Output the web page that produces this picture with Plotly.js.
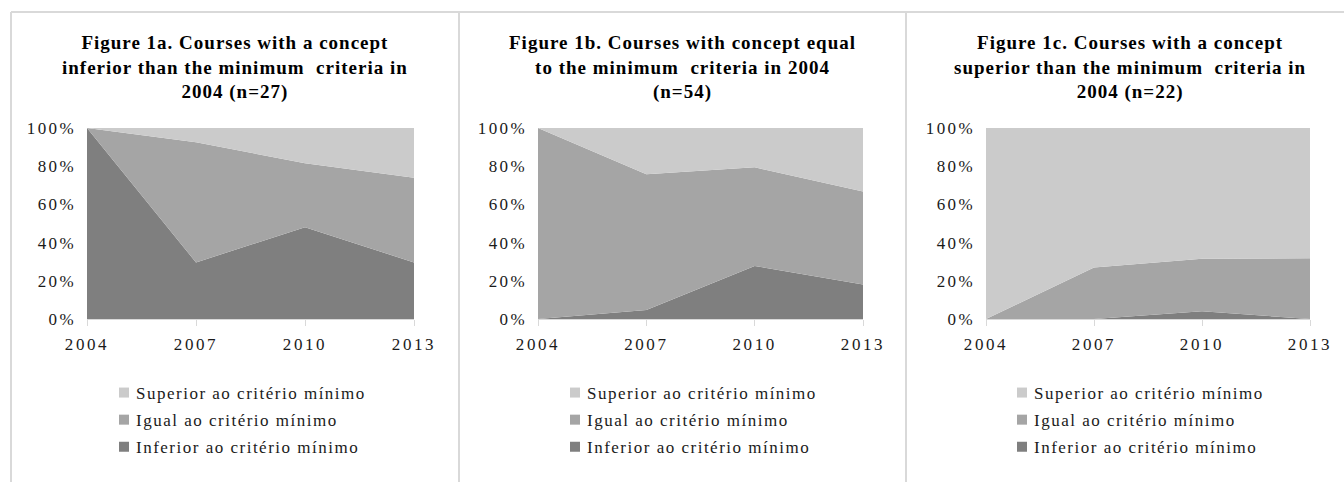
<!DOCTYPE html>
<html>
<head>
<meta charset="utf-8">
<script src="https://cdn.plot.ly/plotly-3.0.1.min.js"></script>
<style>
  html, body { margin: 0; padding: 0; background: #fff; }
  #chart { width: 1344px; height: 482px; }
  .js-plotly-plot .legendpoints { transform: translateX(8px); }
</style>
</head>
<body>
<div id="chart"></div>
<script>
// ---- data ----
const years = [2004, 2007, 2010, 2013];
const seriesNames = ["Inferior ao critério mínimo", "Igual ao critério mínimo", "Superior ao critério mínimo"];
const seriesColors = ["#7f7f7f", "#a5a5a5", "#cbcbcb"];
const yTickVals = [0, 20, 40, 60, 80, 100];
const yTickText = ["0%", "20%", "40%", "60%", "80%", "100%"];

const fig1aInferior = [100, 29.6, 48.1, 29.6];
const fig1aIgual    = [0, 63.0, 33.4, 44.4];
const fig1aSuperior = [0, 7.4, 18.5, 26.0];

const fig1bInferior = [0, 4.7, 27.8, 18.0];
const fig1bIgual    = [100, 71.1, 51.6, 48.7];
const fig1bSuperior = [0, 24.2, 20.6, 33.3];

const fig1cInferior = [0, 0, 4.0, 0];
const fig1cIgual    = [0, 27.0, 27.6, 31.8];
const fig1cSuperior = [100, 73.0, 68.4, 68.2];

const titleLines = [
  ["Figure 1a. Courses with a concept", "inferior than the minimum  criteria in", "2004 (n=27)"],
  ["Figure 1b. Courses with concept equal", "to the minimum  criteria in 2004", "(n=54)"],
  ["Figure 1c. Courses with a concept", "superior than the minimum  criteria in", "2004 (n=22)"]
];

const panels = [
  [fig1aInferior, fig1aIgual, fig1aSuperior],
  [fig1bInferior, fig1bIgual, fig1bSuperior],
  [fig1cInferior, fig1cIgual, fig1cSuperior]
];

// ---- helpers ----
const spaced = (t, s) => '<span style="letter-spacing:' + s + 'px">' + t + '</span>';

// ---- layout geometry (pixels) ----
const W = 1344, H = 482;
const px = v => v / W;
const py = v => (H - v) / H;
const plotX = [[87, 414], [538, 863], [986, 1310]];
const boxX = [[11, 459], [459, 906], [906, 1353]];
const legendX = [96, 547, 994];
const FONT = "Liberation Serif, Times New Roman, serif";
const TXT = "#1a1a1a";

const data = [];
panels.forEach((p, i) => {
  const ax = i === 0 ? "" : String(i + 1);
  p.forEach((vals, s) => {
    data.push({
      x: years, y: vals, type: "scatter", mode: "lines",
      stackgroup: "stack" + i, line: { width: 0, color: seriesColors[s] },
      fillcolor: seriesColors[s], name: seriesNames[s],
      xaxis: "x" + ax, yaxis: "y" + ax, showlegend: false, hoverinfo: "skip"
    });
  });
  // legend entries (Superior first)
  [2, 1, 0].forEach(s => {
    data.push({
      x: [null], y: [null], type: "scatter", mode: "markers",
      marker: { symbol: "square", size: 10, color: seriesColors[s] },
      name: spaced(seriesNames[s], 1.5), legendgroup: "g" + i + "_" + s,
      legend: i === 0 ? "legend" : "legend" + (i + 1),
      xaxis: "x" + ax, yaxis: "y" + ax, showlegend: true
    });
  });
});

const layout = {
  width: W, height: H,
  margin: { l: 0, r: 0, t: 0, b: 0 },
  paper_bgcolor: "#ffffff", plot_bgcolor: "#ffffff",
  font: { family: FONT, size: 17, color: TXT },
  showlegend: true,
  annotations: [], shapes: []
};

panels.forEach((p, i) => {
  const ax = i === 0 ? "" : String(i + 1);
  layout["xaxis" + ax] = {
    domain: [px(plotX[i][0]), px(plotX[i][1])],
    anchor: "y" + ax, range: [2004, 2013],
    tickvals: years, ticktext: years.map(y => spaced(String(y), 2.6)),
    ticks: "outside", ticklen: 6, tickcolor: "#d9d9d9", tickwidth: 1,
    showline: true, linecolor: "#d9d9d9", linewidth: 1,
    showgrid: false, zeroline: false, fixedrange: true,
    ticklabelstandoff: 4,
    tickfont: { family: FONT, size: 17, color: TXT }
  };
  layout["yaxis" + ax] = {
    domain: [py(319), py(128)],
    anchor: "x" + ax, range: [0, 100],
    tickvals: yTickVals, ticktext: yTickText.map(t => spaced(t, 2.4)),
    ticks: "", showline: false, showgrid: false, zeroline: false,
    fixedrange: true, ticklabelstandoff: 10,
    tickfont: { family: FONT, size: 17, color: TXT }
  };
  layout[i === 0 ? "legend" : "legend" + (i + 1)] = {
    x: px(legendX[i]), y: py(375), xanchor: "left", yanchor: "top",
    bgcolor: "rgba(0,0,0,0)", borderwidth: 0,
    font: { family: FONT, size: 17, color: TXT },
    tracegroupgap: 2, itemclick: false, itemdoubleclick: false
  };
  layout.annotations.push({
    text: titleLines[i].map(l => spaced(l, 1.0)).join("<br>"),
    xref: "paper", yref: "paper",
    x: px((boxX[i][0] + boxX[i][1]) / 2), y: py(30),
    xanchor: "center", yanchor: "top", showarrow: false,
    font: { family: FONT, size: 19, color: "#000000", weight: "bold" },
    align: "center"
  });
});

// panel frames
const frameColor = "#d9d9d9";
layout.shapes.push({ type: "line", xref: "paper", yref: "paper", x0: px(11), x1: 1, y0: py(12), y1: py(12), line: { color: frameColor, width: 2 } });
[11, 459, 906].forEach(x => {
  layout.shapes.push({ type: "line", xref: "paper", yref: "paper", x0: px(x), x1: px(x), y0: py(12), y1: 0, line: { color: frameColor, width: 2 } });
});

Plotly.newPlot("chart", data, layout, { displayModeBar: false, staticPlot: true });
</script>
</body>
</html>
